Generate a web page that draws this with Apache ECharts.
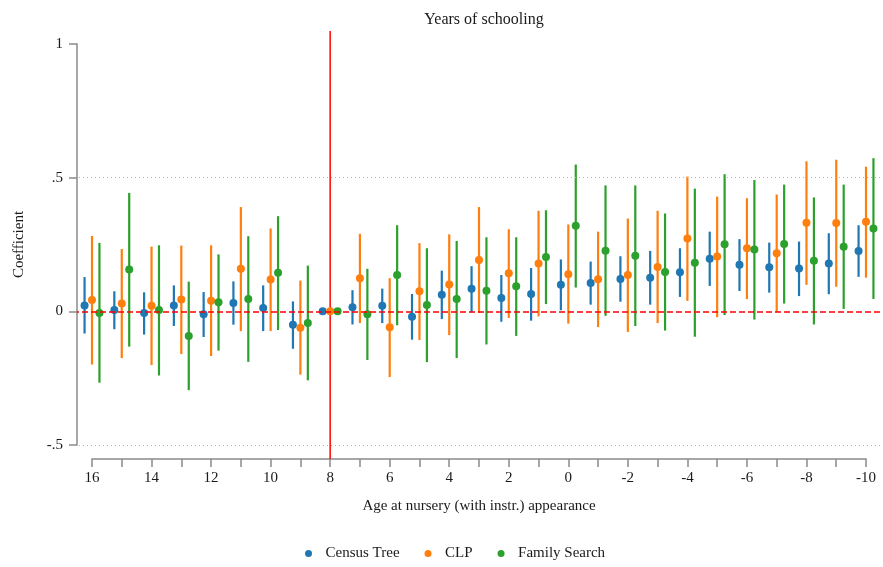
<!DOCTYPE html>
<html>
<head>
<meta charset="utf-8">
<script src="https://cdn.jsdelivr.net/npm/echarts@6/dist/echarts.min.js"></script>
<style>
  html, body { margin: 0; padding: 0; background: #fff; }
  #chart { width: 883px; height: 567px; }
</style>
</head>
<body>
<div id="chart"></div>
<script>
// age at nursery appearance (x axis runs from 16 down to -10)
const ages = [16, 15, 14, 13, 12, 11, 10, 9, 8, 7, 6, 5, 4, 3, 2, 1, 0, -1, -2, -3, -4, -5, -6, -7, -8, -9, -10];

// Census Tree
const censusEst = [0.022, 0.005, -0.006, 0.022, -0.011, 0.031, 0.012, -0.050, 0, 0.015, 0.021, -0.020, 0.062, 0.084, 0.050, 0.065, 0.099, 0.106, 0.121, 0.126, 0.146, 0.197, 0.174, 0.165, 0.160, 0.179, 0.226];
const censusHi = [0.128, 0.075, 0.071, 0.097, 0.072, 0.112, 0.097, 0.037, 0, 0.079, 0.085, 0.065, 0.152, 0.169, 0.136, 0.162, 0.194, 0.186, 0.206, 0.226, 0.236, 0.298, 0.270, 0.257, 0.261, 0.292, 0.322];
const censusLo = [-0.083, -0.067, -0.087, -0.055, -0.096, -0.050, -0.074, -0.140, 0, -0.049, -0.044, -0.106, -0.029, -0.004, -0.039, -0.035, 0.004, 0.025, 0.036, 0.025, 0.054, 0.095, 0.076, 0.070, 0.057, 0.064, 0.129];

// CLP
const clpEst = [0.042, 0.029, 0.021, 0.044, 0.040, 0.159, 0.119, -0.061, 0, 0.124, -0.060, 0.075, 0.100, 0.192, 0.142, 0.179, 0.139, 0.120, 0.136, 0.166, 0.272, 0.205, 0.236, 0.217, 0.331, 0.330, 0.335];
const clpHi = [0.282, 0.233, 0.242, 0.246, 0.247, 0.390, 0.310, 0.115, 0, 0.290, 0.124, 0.255, 0.288, 0.390, 0.307, 0.376, 0.325, 0.298, 0.347, 0.376, 0.504, 0.429, 0.423, 0.437, 0.561, 0.567, 0.541];
const clpLo = [-0.199, -0.175, -0.201, -0.160, -0.167, -0.074, -0.074, -0.237, 0, -0.044, -0.246, -0.107, -0.089, -0.006, -0.025, -0.019, -0.046, -0.059, -0.077, -0.044, 0.039, -0.022, 0.046, -0.002, 0.099, 0.092, 0.126];

// Family Search
const fsEst = [-0.006, 0.156, 0.005, -0.092, 0.034, 0.046, 0.144, -0.044, 0, -0.011, 0.136, 0.024, 0.046, 0.077, 0.094, 0.203, 0.320, 0.227, 0.208, 0.147, 0.182, 0.251, 0.231, 0.252, 0.189, 0.242, 0.310];
const fsHi = [0.256, 0.443, 0.247, 0.111, 0.213, 0.281, 0.356, 0.171, 0, 0.159, 0.322, 0.236, 0.263, 0.277, 0.277, 0.378, 0.549, 0.471, 0.471, 0.366, 0.459, 0.513, 0.491, 0.474, 0.426, 0.474, 0.573];
const fsLo = [-0.267, -0.132, -0.240, -0.295, -0.147, -0.189, -0.070, -0.258, 0, -0.182, -0.052, -0.190, -0.175, -0.124, -0.092, 0.027, 0.089, -0.017, -0.055, -0.072, -0.095, -0.014, -0.031, 0.029, -0.049, 0.009, 0.046];

const yTicks = [-0.5, 0, 0.5, 1];
const cutoffAge = 8;

const FONT = 'Liberation Serif';
const AXIS_GRAY = '#8a8a8a';

const sources = [
    { name: 'Census Tree', color: '#1f77b4', shift: 0.25, est: censusEst, lo: censusLo, hi: censusHi },
    { name: 'CLP', color: '#ff7f0e', shift: 0, est: clpEst, lo: clpLo, hi: clpHi },
    { name: 'Family Search', color: '#2ca02c', shift: -0.25, est: fsEst, lo: fsLo, hi: fsHi }
];

function ciBar(params, api) {
    const x = api.value(0);
    const lo = api.value(1);
    const hi = api.value(2);
    if (lo === hi) return null;
    const p1 = api.coord([x, lo]);
    const p2 = api.coord([x, hi]);
    return {
        type: 'line',
        shape: { x1: p1[0], y1: p1[1], x2: p2[0], y2: p2[1] },
        style: { stroke: api.visual('color'), lineWidth: 2.2 }
    };
}

const series = [];
sources.forEach(function (s) {
    series.push({
        name: s.name,
        type: 'scatter',
        xAxisIndex: 0,
        yAxisIndex: 0,
        symbol: 'circle',
        symbolSize: 8,
        z: 3,
        itemStyle: { color: s.color, opacity: 1 },
        data: ages.map(function (a, i) { return [a + s.shift, s.est[i]]; })
    });
});
sources.forEach(function (s) {
    series.push({
        name: s.name,
        type: 'custom',
        xAxisIndex: 0,
        yAxisIndex: 0,
        z: 2,
        itemStyle: { color: s.color },
        renderItem: ciBar,
        data: ages.map(function (a, i) { return [a + s.shift, s.lo[i], s.hi[i]]; })
    });
});
// reference lines: zero line, dotted grid lines, cutoff line
series.push({
    type: 'custom',
    xAxisIndex: 0,
    yAxisIndex: 0,
    z: 1,
    silent: true,
    renderItem: function (params, api) {
        const cs = params.coordSys;
        const p = api.coord([api.value(0), 0]);
        return {
            type: 'line',
            shape: { x1: p[0], y1: cs.y, x2: p[0], y2: cs.y + cs.height },
            style: { stroke: '#ff0000', lineWidth: 1.5 }
        };
    },
    data: [[cutoffAge]],
    markLine: {
        silent: true,
        symbol: 'none',
        label: { show: false },
        data: [
            { yAxis: 0, lineStyle: { color: '#ff0000', type: [6, 3], width: 1.5 } },
            { yAxis: 0.5, lineStyle: { color: '#b4b4b4', type: [1, 3], width: 1 } },
            { yAxis: -0.5, lineStyle: { color: '#b4b4b4', type: [1, 3], width: 1 } }
        ]
    }
});

const chart = echarts.init(document.getElementById('chart'));
const option = {
    animation: false,
    backgroundColor: '#fff',
    textStyle: { fontFamily: FONT, color: '#1a1a1a' },
    title: {
        text: 'Years of schooling',
        left: 479,
        top: 7,
        textAlign: 'center',
        textStyle: { fontFamily: FONT, fontSize: 16, fontWeight: 'normal', color: '#1a1a1a' }
    },
    legend: {
        left: 300,
        top: 541,
        icon: 'circle',
        itemWidth: 24,
        itemHeight: 7,
        itemGap: 25,
        data: sources.map(function (s) { return s.name; }),
        textStyle: { fontFamily: FONT, fontSize: 15, color: '#1a1a1a' }
    },
    grid: [
        // plot region (data)
        { left: 77, right: 3, top: 31, bottom: 108 },
        // axis frame
        { left: 92, right: 17, top: 44, bottom: 122 }
    ],
    xAxis: [{
        gridIndex: 0,
        type: 'value',
        inverse: true,
        min: -10.47,
        max: 16.504,
        show: false
    }, {
        gridIndex: 1,
        type: 'value',
        position: 'bottom',
        inverse: true,
        min: -10,
        max: 16,
        interval: 1,
        offset: 14,
        name: 'Age at nursery (with instr.) appearance',
        nameLocation: 'middle',
        nameGap: 40,
        nameTextStyle: { fontFamily: FONT, fontSize: 15, color: '#1a1a1a' },
        axisLine: { show: true, onZero: false, lineStyle: { color: AXIS_GRAY, width: 1.5 } },
        axisTick: { show: true, length: 8, lineStyle: { color: AXIS_GRAY, width: 1.5 } },
        axisLabel: {
            margin: 12,
            fontFamily: FONT,
            fontSize: 15,
            color: '#1a1a1a',
            formatter: function (v) { return v % 2 === 0 ? String(v) : ''; }
        },
        splitLine: { show: false }
    }],
    yAxis: [{
        gridIndex: 0,
        type: 'value',
        min: -0.5524,
        max: 1.0486,
        show: false
    }, {
        gridIndex: 1,
        type: 'value',
        position: 'left',
        min: yTicks[0],
        max: yTicks[yTicks.length - 1],
        interval: 0.5,
        offset: 15,
        name: 'Coefficient',
        nameLocation: 'middle',
        nameGap: 50,
        nameTextStyle: { fontFamily: FONT, fontSize: 15, color: '#1a1a1a' },
        axisLine: { show: true, onZero: false, lineStyle: { color: AXIS_GRAY, width: 1.5 } },
        axisTick: { show: true, length: 8, lineStyle: { color: AXIS_GRAY, width: 1.5 } },
        axisLabel: {
            margin: 14,
            fontFamily: FONT,
            fontSize: 15,
            color: '#1a1a1a',
            formatter: function (v) { return String(v).replace('0.', '.'); }
        },
        splitLine: { show: false }
    }],
    series: series
};
option && chart.setOption(option);
</script>
</body>
</html>
